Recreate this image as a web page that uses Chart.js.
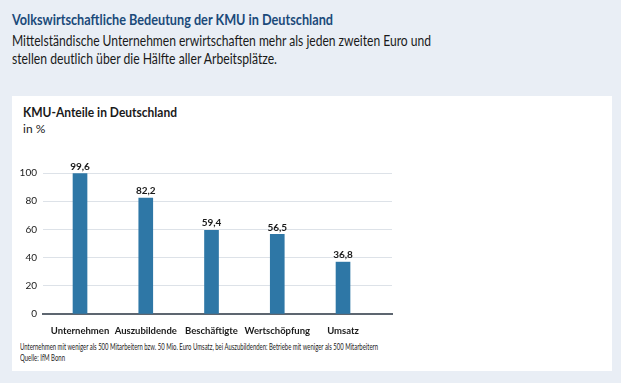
<!DOCTYPE html>
<html lang="de">
  <head>
    <meta charset="UTF-8" />
    <title>KMU-Anteile in Deutschland</title>
    <script src="https://cdn.jsdelivr.net/npm/chart.js@4/dist/chart.umd.min.js"></script>
    <style>
      html, body { margin: 0; padding: 0; }
      body { width: 621px; height: 383px; background: #e9eef5; position: relative; overflow: hidden; font-family: Lato, sans-serif; }
      .line { position: absolute; white-space: nowrap; transform-origin: 0 0; }
      #title { left: 12px; top: 10px; font-size: 16px; line-height: 18px; font-weight: 700; color: #1b4a7a; }
      .sub { left: 12px; font-size: 16px; line-height: 18px; color: #1a1a1a; }
      #panel { position: absolute; left: 12px; top: 96px; width: 600px; height: 275px; background: #fff; }
      #ctitle { left: 23px; top: 104px; font-size: 13px; line-height: 16px; font-weight: 700; color: #1a1a1a; }
      #cunit { left: 23px; top: 122px; font-size: 12px; line-height: 14px; color: #1a1a1a; }
      .note { left: 20px; font-size: 9px; line-height: 10px; color: #1a1a1a; }
      #chart-wrap { position: absolute; left: 0; top: 0; width: 621px; height: 383px; }
    </style>
  </head>
  <body>
    <div class="line" id="title" data-w="321">Volkswirtschaftliche Bedeutung der KMU in Deutschland</div>
    <div class="line sub" style="top: 31px" data-w="419">Mittelständische Unternehmen erwirtschaften mehr als jeden zweiten Euro und</div>
    <div class="line sub" style="top: 49px" data-w="265">stellen deutlich über die Hälfte aller Arbeitsplätze.</div>
    <div id="panel"></div>
    <div class="line" id="ctitle" data-w="154">KMU-Anteile in Deutschland</div>
    <div class="line" id="cunit">in %</div>
    <div class="line note" style="top: 342px" data-w="358">Unternehmen mit weniger als 500 Mitarbeitern bzw. 50 Mio. Euro Umsatz, bei Auszubildenden: Betriebe mit weniger als 500 Mitarbeitern</div>
    <div class="line note" style="top: 353px" data-w="45">Quelle: IfM Bonn</div>
    <div id="chart-wrap"><canvas id="kmu-chart" width="621" height="383"></canvas></div>
    <script>
      const categories = ["Unternehmen", "Auszubildende", "Beschäftigte", "Wertschöpfung", "Umsatz"];
      const shares = [99.6, 82.2, 59.4, 56.5, 36.8];
      const yTicks = [0, 20, 40, 60, 80, 100];

      // squeeze the text lines to the widths of the original
      document.querySelectorAll(".line[data-w]").forEach((el) => {
        const w = el.getBoundingClientRect().width;
        el.style.transform = `scaleX(${el.dataset.w / w})`;
      });

      const fmt = (v) => v.toFixed(1).replace(".", ",");

      const valueLabels = {
        id: "valueLabels",
        afterDatasetsDraw(chart) {
          const ctx = chart.ctx;
          const meta = chart.getDatasetMeta(0);
          ctx.save();
          ctx.font = "bold 10px Lato, sans-serif";
          ctx.fillStyle = "#1a1a1a";
          ctx.textAlign = "center";
          ctx.textBaseline = "bottom";
          meta.data.forEach((bar, i) => {
            ctx.fillText(fmt(shares[i]), bar.x, bar.y - 2);
          });
          ctx.restore();
        },
      };

      const ctx = document.getElementById("kmu-chart").getContext("2d");
      new Chart(ctx, {
        type: "bar",
        data: {
          datasets: [
            {
              data: shares.map((v, i) => ({ x: i, y: v })),
              backgroundColor: "#2e77a6",
              barThickness: 14,
            },
          ],
        },
        options: {
          responsive: false,
          animation: false,
          events: [],
          layout: { padding: { left: 13, right: 229, top: 173, bottom: 0 } },
          plugins: { legend: { display: false }, tooltip: { enabled: false } },
          scales: {
            x: {
              type: "linear",
              offset: false,
              min: -0.563,
              max: 4.745,
              grid: { display: false },
              border: { display: true, color: "#5d6670", width: 2 },
              afterBuildTicks: (scale) => {
                scale.ticks = categories.map((c, i) => ({ value: i }));
              },
              afterFit: (scale) => { scale.height = 69; },
              ticks: {
                autoSkip: false,
                maxRotation: 0,
                padding: 3,
                color: "#1a1a1a",
                font: { family: "Lato", size: 9.5, weight: "bold" },
                callback: (v) => categories[v],
              },
            },
            y: {
              min: 0,
              max: 100,
              afterBuildTicks: (scale) => {
                scale.ticks = yTicks.map((v) => ({ value: v }));
              },
              afterFit: (scale) => { scale.width = 30; },
              grid: { color: "#dde2e8", drawTicks: false },
              border: { display: false },
              ticks: {
                padding: 6,
                color: "#1a1a1a",
                font: { family: "Lato", size: 10 },
              },
            },
          },
        },
        plugins: [valueLabels],
      });
    </script>
  </body>
</html>
